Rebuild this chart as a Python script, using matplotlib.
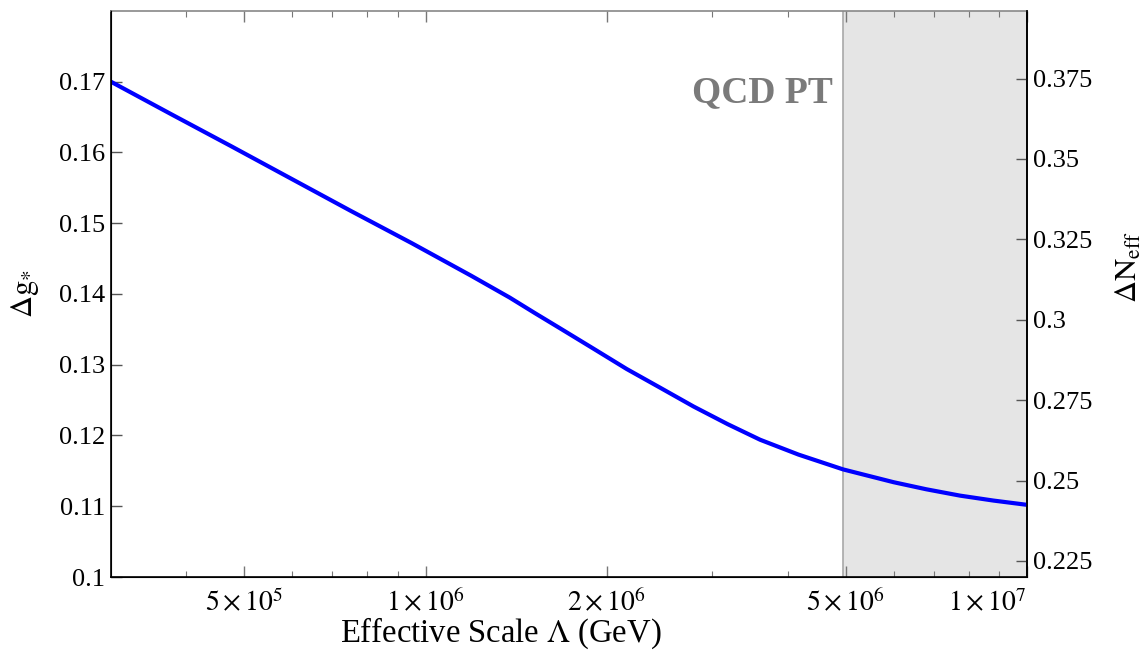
import matplotlib
matplotlib.use('Agg')
import matplotlib.pyplot as plt
from matplotlib.ticker import FixedLocator, NullFormatter

plt.rcParams['font.family'] = ['Liberation Serif', 'DejaVu Serif']
plt.rcParams['mathtext.fontset'] = 'stix'

# values
lam = [3.0e5, 3.78e5, 4.75e5, 5.98e5, 7.53e5, 9.48e5, 1.19e6, 1.38e6, 1.52e6,
       1.67e6, 1.90e6, 2.16e6, 2.45e6, 2.79e6, 3.18e6, 3.6e6, 4.17e6, 4.95e6,
       6.0e6, 6.8e6, 7.74e6, 8.8e6, 1.0e7]
dg = [0.1700, 0.1654, 0.1609, 0.1563, 0.1517, 0.1472, 0.1426, 0.1395, 0.1373,
      0.1352, 0.1323, 0.1294, 0.1268, 0.1241, 0.1216, 0.1194, 0.1173, 0.1152,
      0.1134, 0.1124, 0.1115, 0.1108, 0.1102]

qcd_lambda = 4.95e6
x_min, x_max = 3.0e5, 1.0e7
g_min, g_max = 0.1, 0.18
neff_factor = 2.2  # Delta N_eff = 2.2 * Delta g_*

x_major = [5e5, 1e6, 2e6, 5e6, 1e7]
x_major_labels = [r'$5\times10^{5}$', r'$1\times10^{6}$', r'$2\times10^{6}$',
                  r'$5\times10^{6}$', r'$1\times10^{7}$']
x_minor = [4e5, 6e5, 7e5, 8e5, 9e5, 3e6, 4e6, 6e6, 7e6, 8e6, 9e6]
g_ticks = [0.1, 0.11, 0.12, 0.13, 0.14, 0.15, 0.16, 0.17]
g_labels = ['0.1', '0.11', '0.12', '0.13', '0.14', '0.15', '0.16', '0.17']
n_ticks = [0.225, 0.25, 0.275, 0.3, 0.325, 0.35, 0.375]
n_labels = ['0.225', '0.25', '0.275', '0.3', '0.325', '0.35', '0.375']

fig = plt.figure(figsize=(11.44, 6.59), dpi=100)
ax = fig.add_axes([111 / 1144, 1 - 577 / 659, 916 / 1144, 566 / 659])

ax.axvspan(qcd_lambda, x_max, color='#e5e5e5', lw=0, zorder=0)
ax.axvline(qcd_lambda, color='#a8a8a8', lw=1.2, zorder=1)
ax.plot(lam, dg, color='#0000ff', lw=3.0, zorder=3, solid_capstyle='butt')

ax.set_xscale('log')
ax.set_xlim(x_min, x_max)
ax.set_ylim(g_min, g_max)

ax.xaxis.set_major_locator(FixedLocator(x_major))
ax.set_xticklabels(x_major_labels)
ax.xaxis.set_minor_locator(FixedLocator(x_minor))
ax.xaxis.set_minor_formatter(NullFormatter())
ax.set_yticks(g_ticks)
ax.set_yticklabels(g_labels)

ax.tick_params(axis='x', which='major', direction='in', length=8, width=1,
               color='#777777', top=True, labelsize=20, pad=9)
ax.tick_params(axis='x', which='minor', direction='in', length=4.5, width=0.8,
               color='#777777', top=True)
ax.tick_params(axis='y', which='major', direction='in', length=8, width=1,
               color='#555555', right=False, labelsize=19, pad=4)
ax.xaxis.get_majorticklabels()[-1].set_horizontalalignment('right')

for side in ['left', 'bottom', 'right']:
    ax.spines[side].set_color('black')
    ax.spines[side].set_linewidth(1.2)
ax.spines['top'].set_color('#888888')
ax.spines['top'].set_linewidth(1.2)

ax.set_xlabel(r'Effective Scale $\Lambda$ (GeV)', fontsize=23.5)
ax.xaxis.set_label_coords(0.425, -0.068)
ax.set_ylabel(r'$\Delta\mathrm{g}_{*}$', fontsize=22)
ax.yaxis.set_label_coords(-0.076, 0.5)

ax.text(833, 659 - 93, 'QCD PT', transform=None, fontsize=27, fontweight='bold',
        color='#7a7a7a', ha='right', va='center')

ax2 = ax.twinx()
ax2.set_ylim(g_min * neff_factor, g_max * neff_factor)
ax2.set_yticks(n_ticks)
ax2.set_yticklabels(n_labels)
ax2.tick_params(axis='y', direction='in', length=8, width=1, color='#555555',
                labelsize=19, pad=4)
ax2.spines['right'].set_color('black')
ax2.spines['right'].set_linewidth(1.2)
ax2.spines['top'].set_visible(False)
ax2.set_ylabel(r'$\Delta\mathrm{N}_{\mathrm{eff}}$', fontsize=22)
ax2.yaxis.set_label_coords(1.096, 0.548)

fig.savefig('out.png', dpi=100)
